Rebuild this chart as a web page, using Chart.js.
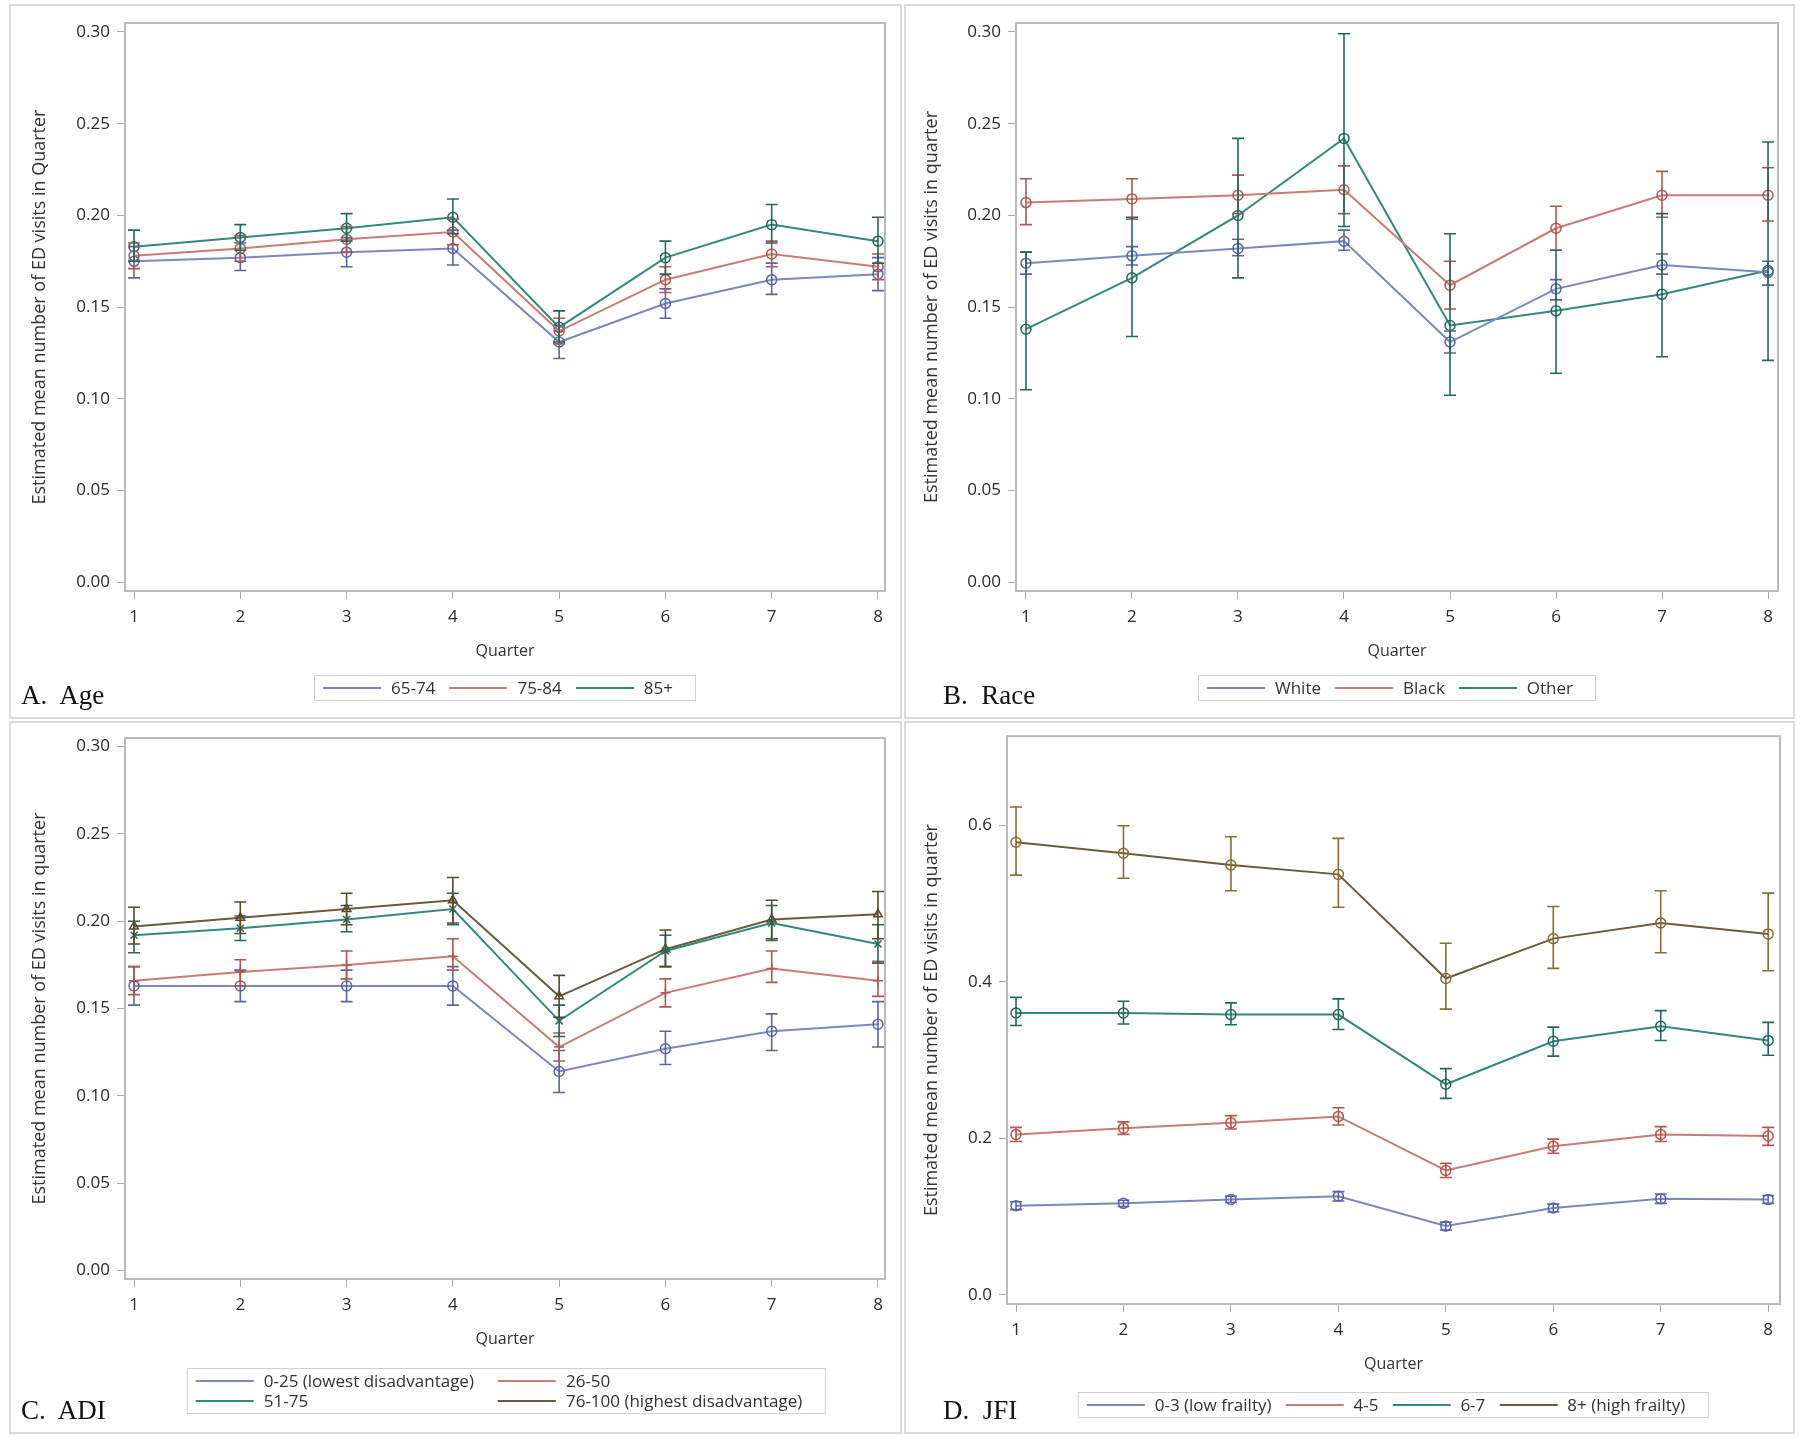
<!DOCTYPE html>
<html lang="en">
<head>
<meta charset="UTF-8">
<title>Estimated mean number of ED visits by quarter</title>
<script src="https://cdn.jsdelivr.net/npm/chart.js"></script>
<style>
  body { margin: 0; width: 1800px; height: 1438px; background: #fff; position: relative; overflow: hidden;
         font-family: "Open Sans", "Liberation Sans", sans-serif; color: #333; }
  canvas { position: absolute; }
  .panel { position: absolute; border: 2px solid #dadada; box-sizing: border-box; }
  .tag { position: absolute; font-family: "Liberation Serif", serif; font-size: 27px; line-height: 1; color: #111; white-space: pre; }
  .legend { position: absolute; transform: translateX(-50%); border: 1px solid #d0d0d0; padding: 2px 8px;
            font-size: 17px; white-space: nowrap; display: flex; align-items: center; }
  .legend.grid { display: grid; grid-template-columns: auto auto; column-gap: 10px; row-gap: 0; }
  .item { display: flex; align-items: center; margin-right: 14px; line-height: 20px; }
  .item i { display: inline-block; width: 58px; height: 2px; margin-right: 10px; }
</style>
</head>
<body>
<div class="panel" style="left:9px;top:4px;width:893px;height:715px"></div>
<div class="panel" style="left:904px;top:4px;width:891px;height:715px"></div>
<div class="panel" style="left:9px;top:721px;width:893px;height:713px"></div>
<div class="panel" style="left:904px;top:721px;width:891px;height:713px"></div>

<canvas id="cA" width="902" height="719" style="left:0;top:0"></canvas>
<canvas id="cB" width="898" height="719" style="left:902px;top:0"></canvas>
<canvas id="cC" width="902" height="719" style="left:0;top:719px"></canvas>
<canvas id="cD" width="898" height="719" style="left:902px;top:719px"></canvas>

<div class="tag" style="left:21px;top:682px">A.  Age</div>
<div class="tag" style="left:943px;top:682px">B.  Race</div>
<div class="tag" style="left:21px;top:1397px">C.  ADI</div>
<div class="tag" style="left:943px;top:1397px">D.  JFI</div>

<div class="legend" id="lgA" style="left:505px;top:675px"></div>
<div class="legend" id="lgB" style="left:1397px;top:675px"></div>
<div class="legend grid" id="lgC" style="left:506px;top:1368px"></div>
<div class="legend" id="lgD" style="left:1393px;top:1392px"></div>

<script>
// quarters on the x axis
const quarters = [1, 2, 3, 4, 5, 6, 7, 8];
const yTicks = [0, 0.05, 0.10, 0.15, 0.20, 0.25, 0.30];
const yTicksD = [0, 0.2, 0.4, 0.6];

// A. Age
const ageLabels = ['65-74', '75-84', '85+'];
const age1 = [0.175, 0.177, 0.180, 0.182, 0.131, 0.152, 0.165, 0.168];
const age1Lo = [0.166, 0.170, 0.172, 0.173, 0.122, 0.144, 0.157, 0.159];
const age1Hi = [0.183, 0.185, 0.188, 0.192, 0.140, 0.160, 0.174, 0.177];
const age2 = [0.178, 0.182, 0.187, 0.191, 0.137, 0.165, 0.179, 0.172];
const age2Lo = [0.171, 0.175, 0.180, 0.184, 0.130, 0.158, 0.172, 0.165];
const age2Hi = [0.185, 0.189, 0.194, 0.198, 0.144, 0.172, 0.186, 0.179];
const age3 = [0.183, 0.188, 0.193, 0.199, 0.139, 0.177, 0.195, 0.186];
const age3Lo = [0.175, 0.181, 0.186, 0.190, 0.131, 0.168, 0.185, 0.174];
const age3Hi = [0.192, 0.195, 0.201, 0.209, 0.148, 0.186, 0.206, 0.199];

// B. Race
const raceLabels = ['White', 'Black', 'Other'];
const white = [0.174, 0.178, 0.182, 0.186, 0.131, 0.160, 0.173, 0.169];
const whiteLo = [0.168, 0.173, 0.178, 0.181, 0.125, 0.154, 0.168, 0.162];
const whiteHi = [0.180, 0.183, 0.187, 0.192, 0.137, 0.165, 0.179, 0.175];
const black = [0.207, 0.209, 0.211, 0.214, 0.162, 0.193, 0.211, 0.211];
const blackLo = [0.195, 0.198, 0.201, 0.201, 0.149, 0.181, 0.199, 0.197];
const blackHi = [0.220, 0.220, 0.222, 0.227, 0.175, 0.205, 0.224, 0.226];
const other = [0.138, 0.166, 0.200, 0.242, 0.140, 0.148, 0.157, 0.170];
const otherLo = [0.105, 0.134, 0.166, 0.194, 0.102, 0.114, 0.123, 0.121];
const otherHi = [0.180, 0.199, 0.242, 0.299, 0.190, 0.181, 0.201, 0.240];

// C. ADI
const adiLabels = ['0-25 (lowest disadvantage)', '26-50', '51-75', '76-100 (highest disadvantage)'];
const adi1 = [0.163, 0.163, 0.163, 0.163, 0.114, 0.127, 0.137, 0.141];
const adi1Lo = [0.152, 0.154, 0.154, 0.152, 0.102, 0.118, 0.126, 0.128];
const adi1Hi = [0.174, 0.172, 0.172, 0.174, 0.126, 0.137, 0.147, 0.154];
const adi2 = [0.166, 0.171, 0.175, 0.180, 0.128, 0.159, 0.173, 0.166];
const adi2Lo = [0.158, 0.163, 0.167, 0.172, 0.120, 0.151, 0.165, 0.157];
const adi2Hi = [0.174, 0.178, 0.183, 0.190, 0.136, 0.167, 0.183, 0.177];
const adi3 = [0.192, 0.196, 0.201, 0.207, 0.143, 0.183, 0.199, 0.187];
const adi3Lo = [0.182, 0.189, 0.194, 0.198, 0.134, 0.174, 0.189, 0.176];
const adi3Hi = [0.200, 0.203, 0.209, 0.216, 0.152, 0.192, 0.209, 0.198];
const adi4 = [0.197, 0.202, 0.207, 0.212, 0.157, 0.184, 0.201, 0.204];
const adi4Lo = [0.187, 0.193, 0.198, 0.199, 0.145, 0.174, 0.190, 0.190];
const adi4Hi = [0.208, 0.211, 0.216, 0.225, 0.169, 0.195, 0.212, 0.217];

// D. JFI
const jfiLabels = ['0-3 (low frailty)', '4-5', '6-7', '8+ (high frailty)'];
const jfi1 = [0.114, 0.117, 0.122, 0.126, 0.088, 0.111, 0.123, 0.122];
const jfi1Lo = [0.109, 0.113, 0.118, 0.120, 0.083, 0.106, 0.117, 0.117];
const jfi1Hi = [0.119, 0.121, 0.126, 0.132, 0.093, 0.116, 0.129, 0.127];
const jfi2 = [0.205, 0.213, 0.220, 0.228, 0.159, 0.190, 0.205, 0.203];
const jfi2Lo = [0.196, 0.205, 0.212, 0.217, 0.150, 0.181, 0.196, 0.191];
const jfi2Hi = [0.214, 0.221, 0.229, 0.239, 0.168, 0.199, 0.215, 0.214];
const jfi3 = [0.360, 0.360, 0.358, 0.358, 0.269, 0.324, 0.343, 0.325];
const jfi3Lo = [0.344, 0.346, 0.345, 0.339, 0.251, 0.305, 0.325, 0.306];
const jfi3Hi = [0.380, 0.375, 0.373, 0.378, 0.289, 0.342, 0.363, 0.348];
const jfi4 = [0.578, 0.564, 0.549, 0.537, 0.404, 0.455, 0.475, 0.461];
const jfi4Lo = [0.536, 0.532, 0.516, 0.495, 0.365, 0.417, 0.437, 0.414];
const jfi4Hi = [0.623, 0.599, 0.585, 0.583, 0.449, 0.496, 0.516, 0.513];

// series colours (line, error bar)
const BLUE = ['#7d86c0', '#5a64a6'];
const RED = ['#cd7a71', '#b2574f'];
const TEAL = ['#2f8a7d', '#22685e'];
const BROWN = ['#6b5a3c', '#5a4829'];

const FONT = '"Open Sans", "Liberation Sans", sans-serif';

function series(label, vals, lo, hi, col, marker) {
  return {
    label: label,
    data: quarters.map((q, i) => ({ x: q, y: vals[i] })),
    lo: lo, hi: hi, barColor: col[1],
    borderColor: col[0], borderWidth: 2,
    pointStyle: marker || 'circle', pointRadius: 5,
    pointBorderColor: col[1], pointBorderWidth: 1.5,
    pointBackgroundColor: 'rgba(255,255,255,0)',
    tension: 0
  };
}

// draws the confidence interval whiskers
const errorBars = {
  id: 'errorBars',
  afterDatasetsDraw(chart) {
    const ctx = chart.ctx, xs = chart.scales.x, ys = chart.scales.y;
    chart.data.datasets.forEach(ds => {
      ctx.save();
      ctx.strokeStyle = ds.barColor;
      ctx.lineWidth = 1.6;
      ds.data.forEach((p, i) => {
        const x = xs.getPixelForValue(p.x);
        const a = ys.getPixelForValue(ds.lo[i]), b = ys.getPixelForValue(ds.hi[i]);
        ctx.beginPath();
        ctx.moveTo(x, a); ctx.lineTo(x, b);
        ctx.moveTo(x - 6, a); ctx.lineTo(x + 6, a);
        ctx.moveTo(x - 6, b); ctx.lineTo(x + 6, b);
        ctx.stroke();
      });
      ctx.restore();
    });
  }
};

// box round the plot area
const frame = {
  id: 'frame',
  beforeDatasetsDraw(chart) {
    const a = chart.chartArea, ctx = chart.ctx;
    ctx.save();
    ctx.strokeStyle = '#b9b9b9';
    ctx.lineWidth = 2;
    ctx.strokeRect(a.left, a.top, a.right - a.left, a.bottom - a.top);
    ctx.restore();
  }
};

function panel(id, datasets, p) {
  return new Chart(document.getElementById(id), {
    type: 'line',
    data: { datasets: datasets },
    plugins: [frame, errorBars],
    options: {
      responsive: false,
      animation: false,
      devicePixelRatio: 1,
      layout: { padding: p.pad },
      plugins: { legend: { display: false }, tooltip: { enabled: false } },
      scales: {
        x: {
          type: 'linear', min: p.xMin, max: p.xMax,
          afterBuildTicks: s => { s.ticks = quarters.map(v => ({ value: v })); },
          afterFit: s => { s.height = 69.6; },
          border: { display: false },
          grid: { drawOnChartArea: false, drawTicks: true, tickLength: 8, color: '#aaa' },
          ticks: { padding: 8, color: '#2a2a2a', font: { family: FONT, size: 17 } },
          title: { display: true, text: 'Quarter', padding: 0, color: '#333', font: { family: FONT, size: 16 } }
        },
        y: {
          min: p.yMin, max: p.yMax,
          afterBuildTicks: s => { s.ticks = p.ticks.map(v => ({ value: v })); },
          afterFit: s => { s.width = p.yW; },
          border: { display: false },
          grid: { drawOnChartArea: false, drawTicks: true, tickLength: 8, color: '#aaa' },
          ticks: { padding: 7, color: '#2a2a2a', font: { family: FONT, size: 17 },
                   callback: v => v.toFixed(p.dec) },
          title: { display: true, text: p.yTitle, padding: 0, color: '#333', font: { family: FONT, size: 18 } }
        }
      }
    }
  });
}

function legend(id, labels, cols) {
  const el = document.getElementById(id);
  labels.forEach((t, i) => {
    const d = document.createElement('div');
    d.className = 'item';
    d.innerHTML = '<i style="background:' + cols[i][0] + '"></i>' + t;
    el.appendChild(d);
  });
}

panel('cA', [
  series(ageLabels[0], age1, age1Lo, age1Hi, BLUE),
  series(ageLabels[1], age2, age2Lo, age2Hi, RED),
  series(ageLabels[2], age3, age3Lo, age3Hi, TEAL)
], { pad: { left: 29.2, top: 23, right: 17, bottom: 58.4 }, yW: 95.8,
     xMin: 0.915, xMax: 8.066, yMin: -0.0047, yMax: 0.3049, ticks: yTicks, dec: 2,
     yTitle: 'Estimated mean number of ED visits in Quarter' });

panel('cB', [
  series(raceLabels[0], white, whiteLo, whiteHi, BLUE),
  series(raceLabels[1], black, blackLo, blackHi, RED),
  series(raceLabels[2], other, otherLo, otherHi, TEAL)
], { pad: { left: 19.2, top: 23, right: 22, bottom: 58.4 }, yW: 94.8,
     xMin: 0.906, xMax: 8.094, yMin: -0.0047, yMax: 0.3049, ticks: yTicks, dec: 2,
     yTitle: 'Estimated mean number of ED visits in quarter' });

panel('cC', [
  series(adiLabels[0], adi1, adi1Lo, adi1Hi, BLUE, 'circle'),
  series(adiLabels[1], adi2, adi2Lo, adi2Hi, RED, 'cross'),
  series(adiLabels[2], adi3, adi3Lo, adi3Hi, TEAL, 'crossRot'),
  series(adiLabels[3], adi4, adi4Lo, adi4Hi, BROWN, 'triangle')
], { pad: { left: 29.2, top: 19, right: 17, bottom: 89.4 }, yW: 95.8,
     xMin: 0.915, xMax: 8.066, yMin: -0.0048, yMax: 0.3049, ticks: yTicks, dec: 2,
     yTitle: 'Estimated mean number of ED visits in quarter' });

panel('cD', [
  series(jfiLabels[0], jfi1, jfi1Lo, jfi1Hi, BLUE),
  series(jfiLabels[1], jfi2, jfi2Lo, jfi2Hi, RED),
  series(jfiLabels[2], jfi3, jfi3Lo, jfi3Hi, TEAL),
  series(jfiLabels[3], jfi4, jfi4Lo, jfi4Hi, ['#6b5a3c', '#8a6c33'])
], { pad: { left: 19.2, top: 16, right: 20, bottom: 64.4 }, yW: 85.8,
     xMin: 0.916, xMax: 8.11, yMin: -0.0115, yMax: 0.7134, ticks: yTicksD, dec: 1,
     yTitle: 'Estimated mean number of ED visits in quarter' });

legend('lgA', ageLabels, [BLUE, RED, TEAL]);
legend('lgB', raceLabels, [BLUE, RED, TEAL]);
legend('lgC', adiLabels, [BLUE, RED, TEAL, BROWN]);
legend('lgD', jfiLabels, [BLUE, RED, TEAL, BROWN]);
</script>
</body>
</html>
